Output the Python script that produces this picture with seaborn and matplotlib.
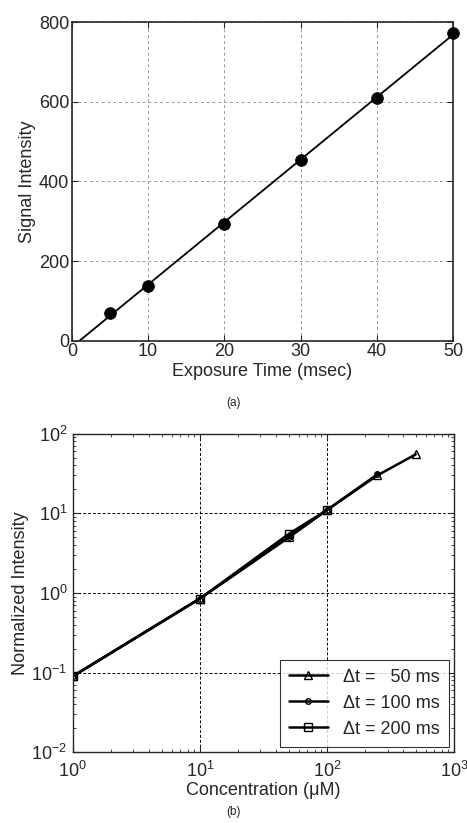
import numpy as np
import pandas as pd
import matplotlib
matplotlib.use("Agg")
import matplotlib.pyplot as plt
import seaborn as sns

# (a) signal vs exposure time
exposure = [5, 10, 20, 30, 40, 50]
signal = [70, 137, 293, 455, 610, 772]

# (b) normalized intensity vs concentration
conc_50 = [1, 10, 50, 100, 250, 500]
int_50 = [0.09, 0.85, 5.0, 11.0, 30.0, 55.0]
conc_100 = [1, 10, 50, 100, 250]
int_100 = [0.09, 0.85, 5.0, 11.0, 31.0]
conc_200 = [1, 10, 50, 100]
int_200 = [0.09, 0.85, 5.5, 11.0]
labels = ["\u0394t =   50 ms", "\u0394t = 100 ms", "\u0394t = 200 ms"]

sns.set_style("ticks")
plt.rcParams['font.family'] = ['Liberation Sans', 'DejaVu Sans']
plt.rcParams['xtick.direction'] = 'in'
plt.rcParams['ytick.direction'] = 'in'

fig = plt.figure(figsize=(4.67, 8.23), dpi=100)
ax1 = fig.add_axes([0.154, 0.586, 0.816, 0.387])
ax2 = fig.add_axes([0.156, 0.086, 0.816, 0.387])

# --- top panel
df_a = pd.DataFrame({"t": exposure, "s": signal})
slope, icpt = np.polyfit(exposure, signal, 1)
xfit = np.array([0, 50])
sns.lineplot(x=xfit, y=slope * xfit + icpt, ax=ax1, color="black", lw=1.3)
sns.scatterplot(data=df_a, x="t", y="s", ax=ax1, color="black", s=70,
                edgecolor="black", zorder=3, clip_on=False)
ax1.set_xlim(0, 50)
ax1.set_ylim(0, 800)
ax1.set_xticks([0, 10, 20, 30, 40, 50])
ax1.set_yticks([0, 200, 400, 600, 800])
ax1.grid(True, ls=(0, (3, 3)), color="#999999", lw=0.7)
ax1.set_xlabel("Exposure Time (msec)", fontsize=13, labelpad=2)
ax1.set_ylabel("Signal Intensity", fontsize=13, labelpad=2)
ax1.tick_params(labelsize=13, top=True, right=True, length=4, pad=2)
for sp in ax1.spines.values():
    sp.set_linewidth(1.2)
fig.text(0.5, 1 - 403 / 823, "(a)", ha="center", va="center", fontsize=8.5)

# --- bottom panel
markers = ["^", "o", "s"]
sizes = [6, 4, 6]
for xs, ys, lab, m, ms in zip([conc_50, conc_100, conc_200],
                              [int_50, int_100, int_200], labels, markers, sizes):
    sns.lineplot(x=xs, y=ys, ax=ax2, color="black", lw=1.8, marker=m,
                 markersize=ms, markerfacecolor="none", markeredgecolor="black",
                 markeredgewidth=1, label=lab)
ax2.set_xscale("log")
ax2.set_yscale("log")
ax2.set_xlim(1, 1000)
ax2.set_ylim(0.01, 100)
ax2.grid(True, which="major", ls=(0, (3, 2)), color="black", lw=0.7)
ax2.set_xlabel("Concentration (\u03bcM)", fontsize=13, labelpad=1)
ax2.set_ylabel("Normalized Intensity", fontsize=13, labelpad=2)
ax2.tick_params(which="both", labelsize=13, top=True, right=True)
ax2.tick_params(axis="x", which="both", pad=6)
ax2.tick_params(axis="y", which="both", pad=4)
ax2.tick_params(which="major", length=4)
ax2.tick_params(which="minor", length=2)
for sp in ax2.spines.values():
    sp.set_linewidth(1.0)
leg = ax2.legend(loc="lower right", fontsize=13, frameon=True, fancybox=False,
                 edgecolor="black", handlelength=2.2, borderaxespad=0.3,
                 labelspacing=0.5, borderpad=0.5)
leg.get_frame().set_linewidth(0.8)
fig.text(0.5, 1 - 812 / 823, "(b)", ha="center", va="center", fontsize=8.5)

fig.savefig("out.png", dpi=100)
